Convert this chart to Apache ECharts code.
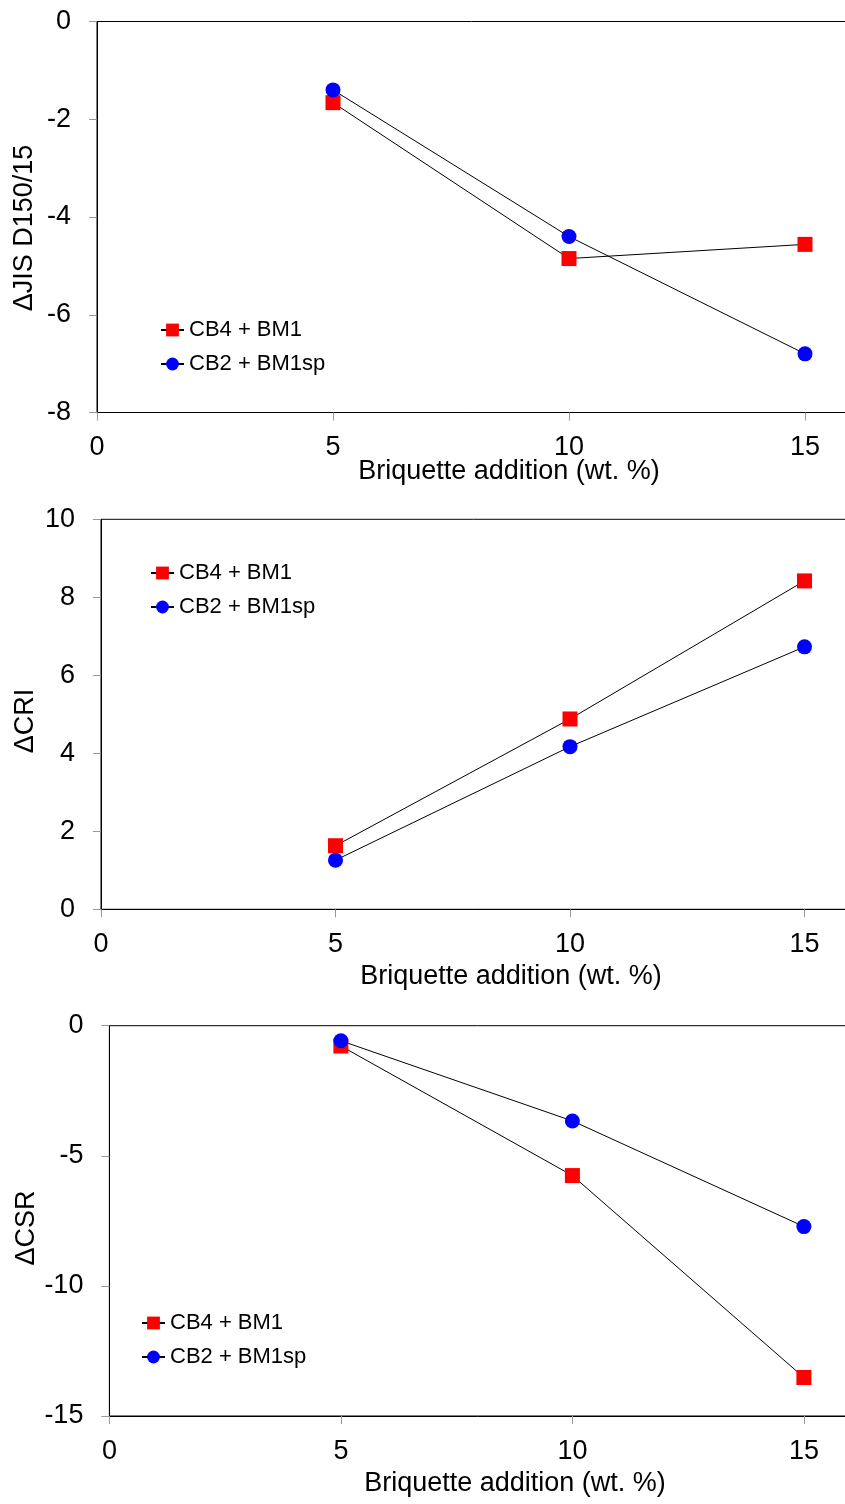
<!DOCTYPE html>
<html>
<head>
<meta charset="utf-8">
<title>Briquette addition</title>
<script src="https://cdn.jsdelivr.net/npm/echarts@6/dist/echarts.min.js"></script>
<style>
  html, body { margin: 0; padding: 0; background: #fff; }
  #chart { width: 845px; height: 1504px; }
</style>
</head>
<body>
<div id="chart"></div>
<script>
// x positions (wt. %)
const xVals = [5, 10, 15];
const seriesNames = ['CB4 + BM1', 'CB2 + BM1sp'];

// panel 1 - ΔJIS D150/15
const jisCB4 = [-1.66, -4.85, -4.56];
const jisCB2 = [-1.40, -4.40, -6.80];
// panel 2 - ΔCRI
const criCB4 = [1.63, 4.88, 8.42];
const criCB2 = [1.26, 4.17, 6.73];
// panel 3 - ΔCSR
const csrCB4 = [-0.78, -5.76, -13.52];
const csrCB2 = [-0.58, -3.66, -7.72];

const yNames = ['\u0394JIS D150/15', '\u0394CRI', '\u0394CSR'];
const xName = 'Briquette addition (wt. %)';

const FONT = 'Liberation Sans, Arial, sans-serif';

// layout of each panel (px)
const panels = [
  { left: 97,  top: 21.5,  height: 391, unit: 47.2, yMin: -8,  yMax: 0,  yStep: 2,
    legendLeft: 160, legendTop: 319, yNameX: 25, yNameY: 228, xNameX: 509, xNameY: 472 },
  { left: 101, top: 519.3, height: 390, unit: 46.9, yMin: 0,   yMax: 10, yStep: 2,
    legendLeft: 150, legendTop: 562, yNameX: 26, yNameY: 721, xNameX: 511, xNameY: 977 },
  { left: 109.4, top: 1025.7, height: 390.3, unit: 46.3, yMin: -15, yMax: 0, yStep: 5,
    legendLeft: 141, legendTop: 1312, yNameX: 27, yNameY: 1228, xNameX: 515, xNameY: 1484 }
];
const panelData = [[jisCB4, jisCB2], [criCB4, criCB2], [csrCB4, csrCB2]];

const toPoints = arr => xVals.map((x, i) => [x, arr[i]]);

const myChart = echarts.init(document.getElementById('chart'));

const grid = [], xAxis = [], yAxis = [], series = [], legend = [], graphic = [];

panels.forEach((p, k) => {
  grid.push({
    left: p.left, top: p.top, height: p.height,
    width: p.unit * 20, // axis runs to 20, right part falls off the page
    show: true, borderColor: '#000', borderWidth: 1,
    outerBoundsMode: 'none'
  });
  xAxis.push({
    type: 'value', gridIndex: k, min: 0, max: 20, interval: 5,
    axisLine: { onZero: false, lineStyle: { color: '#000', width: 1 } },
    axisTick: { show: true, length: 8, lineStyle: { color: '#999' } },
    axisLabel: { color: '#000', fontSize: 27, fontFamily: FONT, margin: 22 },
    splitLine: { show: false }
  });
  yAxis.push({
    type: 'value', gridIndex: k, min: p.yMin, max: p.yMax, interval: p.yStep,
    axisLine: { show: true, onZero: false, lineStyle: { color: '#000', width: 1 } },
    axisTick: { show: true, length: 8, lineStyle: { color: '#999' } },
    axisLabel: { color: '#000', fontSize: 27, fontFamily: FONT, margin: 26 },
    splitLine: { show: false }
  });
  // red squares first, blue circles drawn on top
  series.push({
    name: seriesNames[0], type: 'line', xAxisIndex: k, yAxisIndex: k,
    data: toPoints(panelData[k][0]),
    symbol: 'rect', symbolSize: 15,
    lineStyle: { color: '#000', width: 1 },
    itemStyle: { color: '#ff0000', borderWidth: 0 },
    animation: false
  });
  series.push({
    name: seriesNames[1], type: 'line', xAxisIndex: k, yAxisIndex: k,
    data: toPoints(panelData[k][1]),
    symbol: 'circle', symbolSize: 15,
    lineStyle: { color: '#000', width: 1 },
    itemStyle: { color: '#0000ff', borderWidth: 0 },
    animation: false
  });
  legend.push({
    data: seriesNames, orient: 'vertical',
    left: p.legendLeft, top: p.legendTop, padding: 0,
    itemWidth: 23, itemHeight: 16, itemGap: 12,
    textStyle: { color: '#000', fontSize: 22, fontFamily: FONT }
  });
  // axis titles
  graphic.push({
    type: 'text', x: p.yNameX, y: p.yNameY, rotation: Math.PI / 2,
    style: { text: yNames[k], font: '27px ' + FONT, fill: '#000', textAlign: 'center', textVerticalAlign: 'middle' }
  });
  graphic.push({
    type: 'text', x: p.xNameX, y: p.xNameY,
    style: { text: xName, font: '27px ' + FONT, fill: '#000', textAlign: 'center', textVerticalAlign: 'middle' }
  });
});

const option = {
  backgroundColor: '#fff',
  animation: false,
  grid, xAxis, yAxis, series, legend, graphic
};

myChart.setOption(option);
window.addEventListener('resize', () => myChart.resize());
</script>
</body>
</html>
